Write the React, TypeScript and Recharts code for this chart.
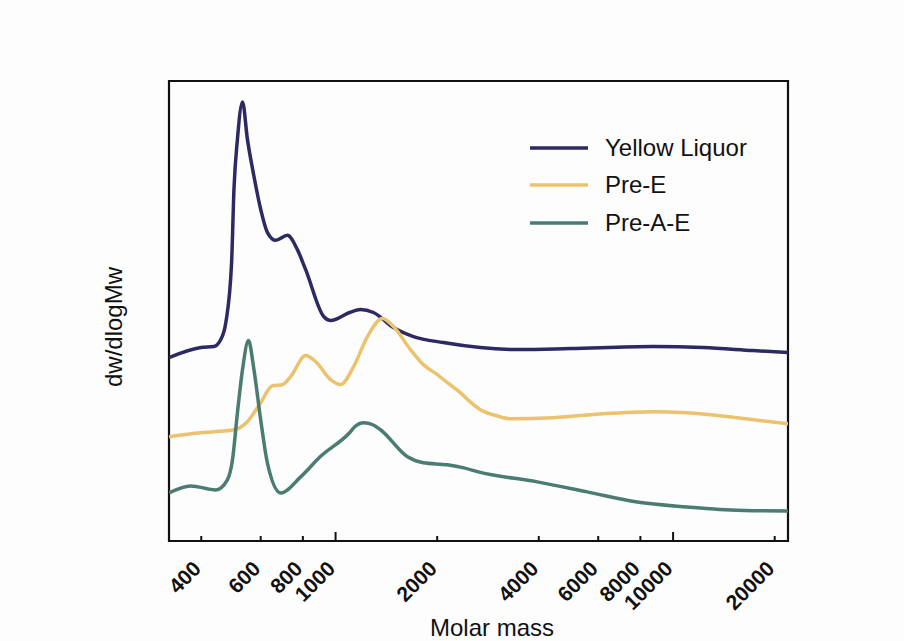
import React from "react";
import {
  LineChart,
  Line,
  XAxis,
  YAxis,
  Legend,
  ReferenceArea,
} from "recharts";

// Molar mass (x, log scale) and dw/dlogMw (arbitrary units)
const yellowLiquorMass = [321, 399, 436, 457, 473, 492, 500, 512, 530, 548, 573, 600, 628, 665, 720, 770, 815, 922, 967, 1100, 1186, 1295, 1484, 1701, 2087, 2685, 3527, 4957, 8730, 12270, 17250, 21900];
const yellowLiquorValue = [183, 193, 194, 201, 218, 278, 351, 401, 438, 401, 364, 331, 308, 300, 305, 291, 271, 224, 220, 228, 231, 228, 213, 204, 198, 193, 191, 192, 194, 193, 190, 188];

const preEMass = [321, 399, 436, 500, 548, 600, 650, 696, 736, 815, 873, 967, 1035, 1131, 1243, 1377, 1484, 1667, 1820, 2003, 2144, 2342, 2500, 2685, 3000, 3294, 4418, 6207, 8730, 10990, 15460, 21900];
const preEValue = [104, 108, 109, 111, 119, 138, 155, 156, 164, 185, 179, 161, 156, 174, 204, 222, 214, 191, 176, 166, 158, 148, 139, 131, 125, 122, 123, 127, 129, 128, 123, 117];

const preAEMass = [321, 372, 442, 478, 495, 512, 530, 552, 573, 600, 628, 688, 788, 900, 1100, 1140, 1210, 1290, 1359, 1633, 1820, 2144, 2400, 2649, 3960, 5567, 7827, 10990, 13770, 17250, 21900];
const preAEValue = [48, 55, 51, 61, 81, 128, 171, 200, 171, 121, 78, 48, 64, 84, 108, 114, 118, 116, 111, 84, 78, 76, 73, 69, 59, 49, 39, 34, 31.5, 30.3, 30];

const xTicks = [400, 600, 800, 1000, 2000, 4000, 6000, 8000, 10000, 20000];
const majorTicks = [1000, 10000];
const legendOrder = ["Yellow Liquor", "Pre-E", "Pre-A-E"];

const X_DOMAIN = [321, 21900];
const Y_DOMAIN = [0, 459];

const toRows = (mass: number[], value: number[]) =>
  mass.map((m, i) => ({ m, v: value[i] }));

const yellowLiquor = toRows(yellowLiquorMass, yellowLiquorValue);
const preE = toRows(preEMass, preEValue);
const preAE = toRows(preAEMass, preAEValue);

const FONT = '"Liberation Sans", Arial, sans-serif';

const MassTick = (props: any) => {
  const { x, y, payload } = props;
  const len = majorTicks.includes(payload.value) ? 9 : 5;
  return (
    <g>
      <line x1={x} x2={x} y1={y} y2={y - len} stroke="#111" strokeWidth={2} />
      <text
        x={x + 1}
        y={y + 29}
        transform={`rotate(-45, ${x + 1}, ${y + 29})`}
        textAnchor="end"
        fontSize={21}
        fontWeight="bold"
        fontFamily={FONT}
        fill="#111"
      >
        {payload.value}
      </text>
    </g>
  );
};

const renderLegend = (props: any) => {
  const payload = [...(props.payload || [])].sort(
    (a: any, b: any) => legendOrder.indexOf(a.value) - legendOrder.indexOf(b.value)
  );
  return (
    <div style={{ fontFamily: FONT }}>
      {payload.map((entry: any) => (
        <div
          key={entry.value}
          style={{ display: "flex", alignItems: "center", height: 37.5 }}
        >
          <svg width={58} height={4} style={{ marginRight: 17 }}>
            <line x1={0} x2={58} y1={2} y2={2} stroke={entry.color} strokeWidth={3.5} />
          </svg>
          <span style={{ fontSize: 24, color: "#111", lineHeight: "24px" }}>{entry.value}</span>
        </div>
      ))}
    </div>
  );
};

export default function App() {
  return (
    <div
      style={{
        position: "absolute",
        left: 0,
        top: 0,
        width: 904,
        height: 641,
        background: "#fdfdfd",
        overflow: "hidden",
      }}
    >
      <LineChart
        width={904}
        height={641}
        margin={{ top: 81, right: 116, left: 0, bottom: 0 }}
        style={{ fontFamily: FONT }}
      >
        <XAxis
          dataKey="m"
          type="number"
          scale="log"
          domain={X_DOMAIN}
          allowDataOverflow
          ticks={xTicks}
          interval={0}
          height={100}
          axisLine={false}
          tickLine={false}
          tickSize={0}
          tickMargin={0}
          tick={<MassTick />}
          label={{
            content: () => (
              <text
                x={492}
                y={636}
                textAnchor="middle"
                fontSize={24}
                fontFamily={FONT}
                fill="#111"
              >
                Molar mass
              </text>
            ),
          }}
        />
        <YAxis
          type="number"
          domain={Y_DOMAIN}
          allowDataOverflow
          width={169}
          tick={false}
          tickLine={false}
          axisLine={false}
          label={{
            content: () => (
              <text
                x={122}
                y={327}
                transform="rotate(-90, 122, 327)"
                textAnchor="middle"
                fontSize={24}
                fontFamily={FONT}
                fill="#111"
              >
                dw/dlogMw
              </text>
            ),
          }}
        />
        <Line
          data={yellowLiquor}
          dataKey="v"
          name="Yellow Liquor"
          type="monotone"
          stroke="#2d2a63"
          strokeWidth={3.5}
          dot={false}
          isAnimationActive={false}
        />
        <Line
          data={preE}
          dataKey="v"
          name="Pre-E"
          type="monotone"
          stroke="#ebc26d"
          strokeWidth={3.5}
          dot={false}
          isAnimationActive={false}
        />
        <Line
          data={preAE}
          dataKey="v"
          name="Pre-A-E"
          type="monotone"
          stroke="#4a7c72"
          strokeWidth={3.5}
          dot={false}
          isAnimationActive={false}
        />
        <ReferenceArea
          x1={X_DOMAIN[0]}
          x2={X_DOMAIN[1]}
          y1={Y_DOMAIN[0]}
          y2={Y_DOMAIN[1]}
          fill="none"
          stroke="#111"
          strokeWidth={2.2}
          ifOverflow="visible"
        />
        <Legend
          layout="vertical"
          align="center"
          verticalAlign="middle"
          content={renderLegend}
          wrapperStyle={{ left: 530, top: 129, width: 260 }}
        />
      </LineChart>
    </div>
  );
}
